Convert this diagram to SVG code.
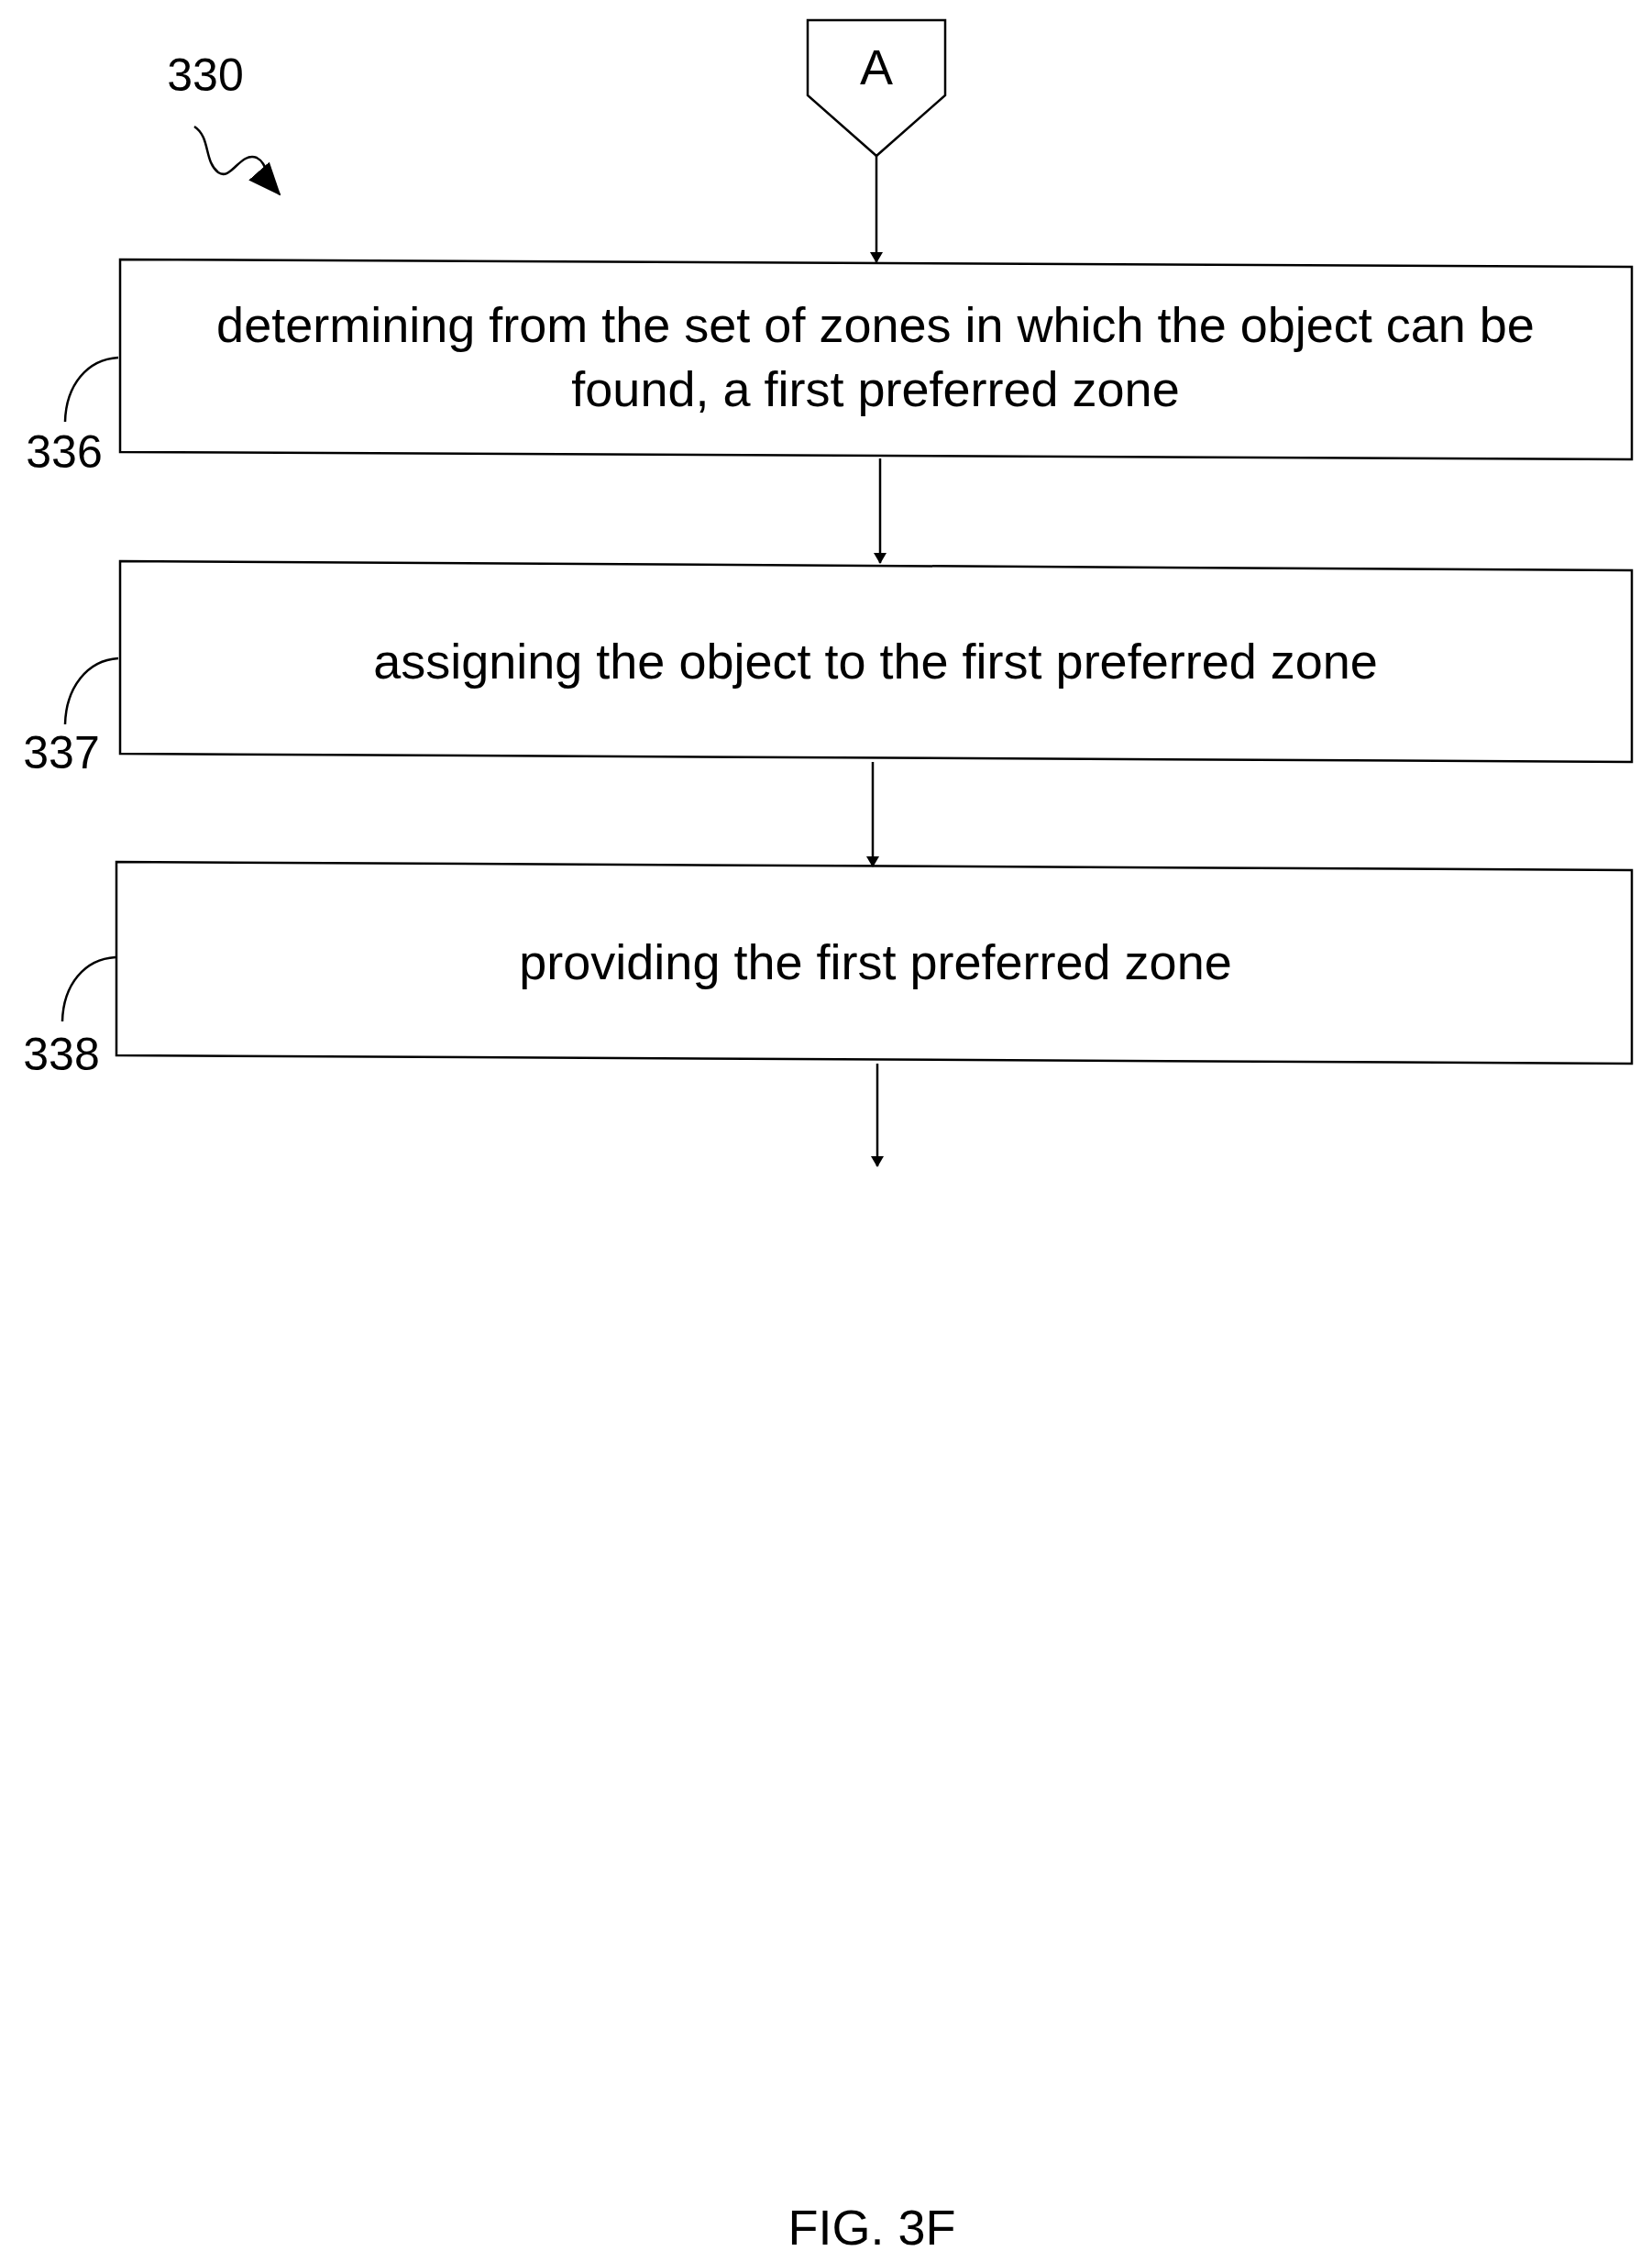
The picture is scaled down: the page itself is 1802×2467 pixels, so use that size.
<svg xmlns="http://www.w3.org/2000/svg" width="1802" height="2467" viewBox="0 0 1802 2467">
<style>
.s{fill:none;stroke:#000;stroke-width:2.5}
.t{font-family:"Liberation Sans",Arial,sans-serif;fill:#000;text-anchor:middle}
.b{font-size:54px}
.l{font-size:50px}
</style>
<defs><marker id="ah" markerWidth="12" markerHeight="14" refX="11" refY="7" orient="auto" markerUnits="userSpaceOnUse" viewBox="0 0 12 14"><path d="M0,0 L12,7 L0,14 Z" fill="#000"/></marker>
<marker id="ah2" markerWidth="36" markerHeight="30" refX="34" refY="15" orient="auto" markerUnits="userSpaceOnUse"><path d="M0,0 L36,15 L0,30 Z" fill="#000"/></marker></defs>
<rect width="1802" height="2467" fill="#fff"/>
<g id="connA"><path class="s" d="M881,22 L1031,22 L1031,104 L956,170 L881,104 Z"/><text class="t" x="956" y="92" font-size="54">A</text></g>
<g id="n336"><path class="s" d="M131,283 L1780,291 L1780,501 L131,493 Z"/>
<text class="t b" x="955" y="373">determining from the set of zones in which the object can be</text>
<text class="t b" x="955" y="443">found, a first preferred zone</text></g>
<g id="n337"><path class="s" d="M131,612 L1780,622 L1780,831 L131,822 Z"/>
<text class="t b" x="955" y="740">assigning the object to the first preferred zone</text></g>
<g id="n338"><path class="s" d="M127,940 L1780,949 L1780,1160 L127,1151 Z"/>
<text class="t b" x="955" y="1068">providing the first preferred zone</text></g>
<g id="labels">
<text class="t l" x="224" y="99">330</text>
<text class="t l" x="70" y="510">336</text>
<text class="t l" x="67" y="838">337</text>
<text class="t l" x="67" y="1167">338</text>
<path class="s" d="M129,390 C95,392 72,420 71,460"/>
<path class="s" d="M129,718 C95,720 72,750 71,790"/>
<path class="s" d="M126,1044 C92,1046 69,1074 68,1114"/>
<path class="s" marker-end="url(#ah2)" d="M212,138 C230,150 222,175 238,188 C252,198 262,165 280,172 C292,178 290,195 305,212"/>
<text class="t" x="951" y="2448" font-size="54">FIG. 3F</text>
</g>
<g id="connectors" marker-end="url(#ah)">
<path class="s" d="M956,170 L956,286" marker-end="url(#ah)"/>
<path class="s" d="M960,500 L960,614" marker-end="url(#ah)"/>
<path class="s" d="M952,831 L952,945" marker-end="url(#ah)"/>
<path class="s" d="M957,1160 L957,1272" marker-end="url(#ah)"/>
</g>
</svg>
